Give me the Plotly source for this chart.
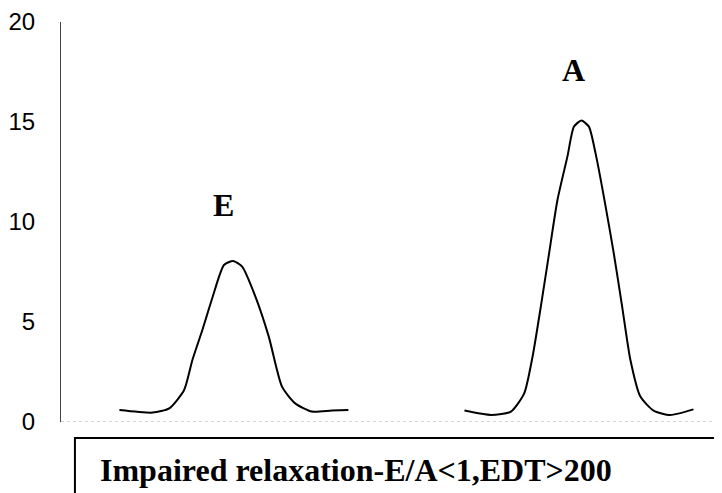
import plotly.graph_objects as go

# Data (x in sample units, y in velocity units)
e_x = [5.87, 9.2, 10.87, 12.37, 13.2, 14.2, 15.2, 16.37, 17.3, 18.2, 19.53, 20.87, 22.2, 23.53, 25.2, 27.2, 28.87]
e_y = [0.6, 0.47, 0.68, 1.6, 3.1, 4.6, 6.2, 7.85, 8.05, 7.77, 6.27, 4.27, 1.77, 0.93, 0.52, 0.57, 0.6]

a_x = [40.53, 43.2, 45.2, 46.53, 47.37, 48.2, 49.03, 49.87, 50.87, 51.53, 52.27, 53.03,
       53.7, 54.53, 55.53, 56.37, 57.2, 58.2, 59.53, 61.2, 63.53]
a_y = [0.57, 0.35, 0.52, 1.43, 3.27, 5.77, 8.43, 11.1, 13.27, 14.77, 15.07, 14.77,
       13.43, 11.27, 8.43, 5.77, 3.1, 1.27, 0.57, 0.35, 0.63]

y_ticks = [0, 5, 10, 15, 20]
peak_labels = ["E", "A"]
peak_label_pos = [(16.3, 10.85), (51.5, 17.6)]
caption = "Impaired relaxation-E/A<1,EDT>200"

fig = go.Figure()
for xs, ys in [(e_x, e_y), (a_x, a_y)]:
    fig.add_trace(go.Scatter(x=xs, y=ys, mode="lines",
                             line=dict(color="black", width=2, shape="spline", smoothing=0.6),
                             showlegend=False, hoverinfo="skip"))

for lab, (lx, ly) in zip(peak_labels, peak_label_pos):
    fig.add_annotation(x=lx, y=ly, text=f"<b>{lab}</b>", showarrow=False,
                       font=dict(family="Liberation Serif", size=32, color="black"))

# dotted baseline (x axis)
fig.add_shape(type="line", xref="paper", yref="y", x0=0, x1=1, y0=0, y1=0,
              line=dict(color="#aaaaaa", width=1, dash="dot"))

# caption box
fig.add_shape(type="rect", xref="paper", yref="paper",
              x0=(72 - 58) / 664, x1=1.1, y0=-0.35, y1=-16 / 400,
              line=dict(color="black", width=2), fillcolor="rgba(0,0,0,0)")
fig.add_annotation(xref="paper", yref="paper", x=(95 - 58) / 664, y=-0.12,
                   xanchor="left", yanchor="middle", showarrow=False,
                   text=f"<b>{caption}</b>",
                   font=dict(family="Liberation Serif", size=32, color="black"))

fig.update_layout(
    width=714, height=485,
    margin=dict(l=50, r=0, t=14, b=71),
    paper_bgcolor="white", plot_bgcolor="white",
    xaxis=dict(range=[0, 66.4], showticklabels=False, showgrid=False, zeroline=False,
               showline=False, ticks=""),
    yaxis=dict(range=[0, 20], tickvals=y_ticks, showgrid=False, zeroline=False,
               showline=True, linecolor="#444444", linewidth=1, ticks="",
               ticklabelstandoff=20,
               tickfont=dict(family="Liberation Sans", size=24, color="black")),
)

fig.write_html("out.html")
